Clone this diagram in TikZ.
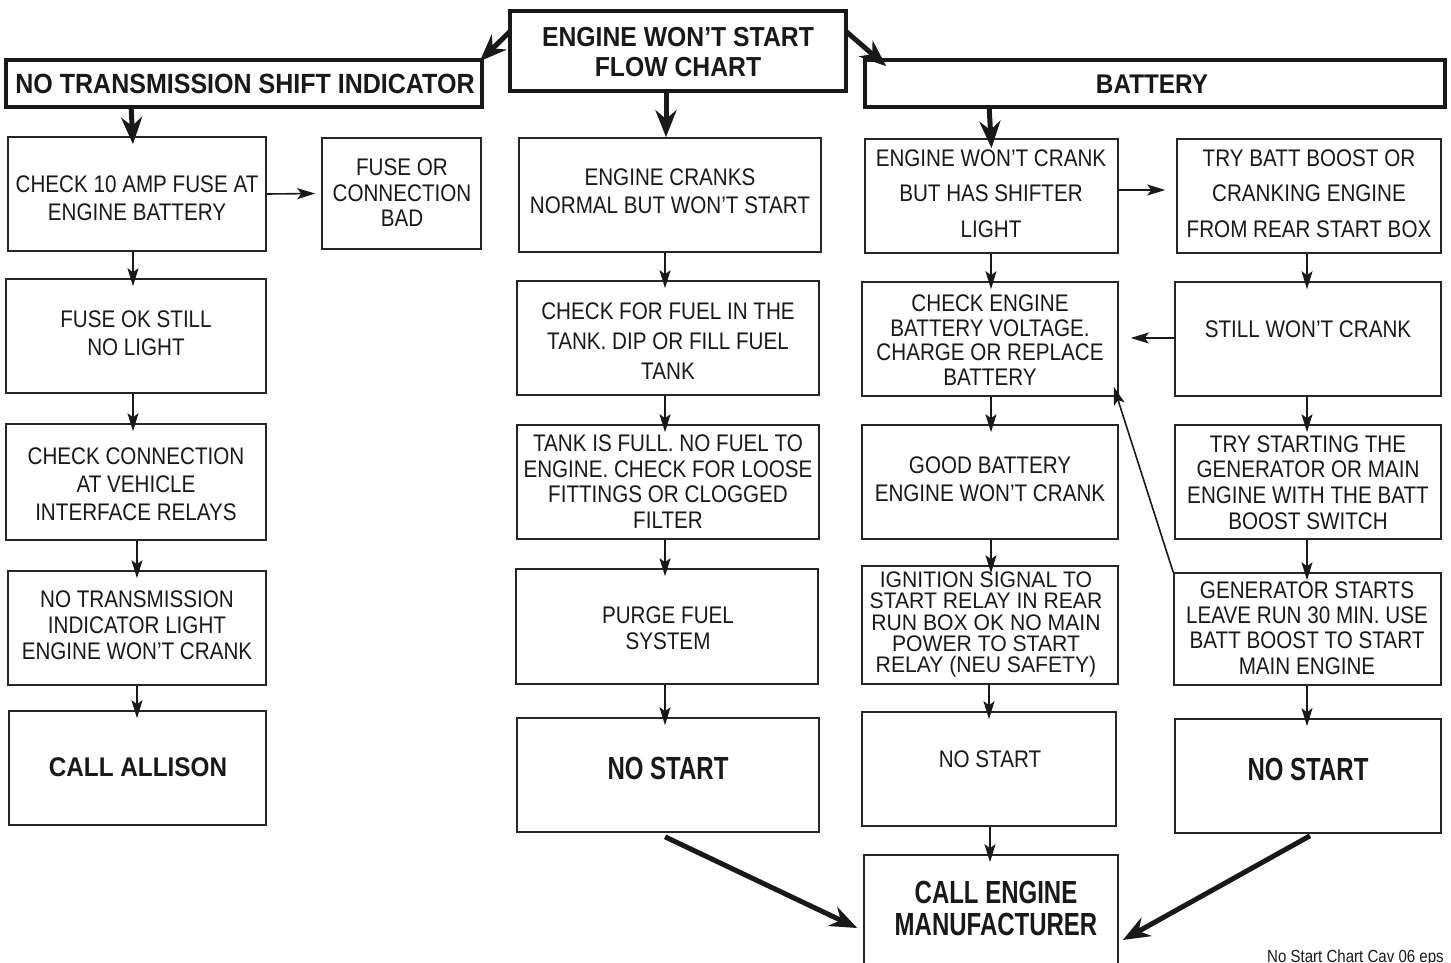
\documentclass[tikz,border=0pt]{standalone}
\usepackage{fontspec}
\setmainfont{Liberation Sans}[FakeStretch=0.86]
\newfontfamily\wfont{Liberation Sans}[FakeStretch=0.94]
\newfontfamily\hbold{Liberation Sans}[FakeStretch=0.9]
\newfontfamily\cbold{Liberation Sans}[FakeStretch=0.75]
\usetikzlibrary{fit,arrows.meta,calc}
\newcommand{\nf}[2]{\fontsize{#1}{#2}\selectfont}
\tikzset{
  box/.style={draw=black!85, line width=1.6pt, inner sep=0pt},
  hbox/.style={draw=black!90, line width=3.6pt, inner sep=0pt},
  txt/.style={align=center, inner sep=0pt, text=black!90},
  ar/.style={draw=black!90, line width=1.6pt, -{Stealth[length=18pt,width=11pt,inset=4pt]}},
  tar/.style={draw=black!90, line width=5pt, -{Stealth[length=27pt,width=21pt]}},
}
\begin{document}
\begin{tikzpicture}[x=1pt,y=-1pt]
\useasboundingbox (0,0) rectangle (1451,962);
\clip (0,0) rectangle (1451,962);
% header boxes
\node[hbox, fit={(510,11) (846,91)}] (title) {};
\node[hbox, fit={(6,60) (482,107)}] (lhead) {};
\node[hbox, fit={(865,60) (1445,107)}] (bhead) {};
% left column
\node[box, fit={(8,137) (266,251)}] (b1) {};
\node[box, fit={(322,138) (481,249)}] (b1r) {};
\node[box, fit={(6,279) (266,393)}] (b2) {};
\node[box, fit={(6,424) (266,540)}] (b3) {};
\node[box, fit={(8,571) (266,685)}] (b4) {};
\node[box, fit={(9,711) (266,825)}] (b5) {};
% middle column
\node[box, fit={(519,138) (821,252)}] (m1) {};
\node[box, fit={(517,281) (819,395)}] (m2) {};
\node[box, fit={(517,425) (819,539)}] (m3) {};
\node[box, fit={(516,569) (818,684)}] (m4) {};
\node[box, fit={(517,718) (819,832)}] (m5) {};
% battery column
\node[box, fit={(865,139) (1118,253)}] (r1) {};
\node[box, fit={(862,282) (1118,396)}] (r2) {};
\node[box, fit={(862,425) (1118,539)}] (r3) {};
\node[box, fit={(862,566) (1118,684)}] (r4) {};
\node[box, fit={(862,712) (1116,826)}] (r5) {};
\node[box, fit={(864,855) (1118,985)}] (cem) {};
% far right column
\node[box, fit={(1177,139) (1441,253)}] (f1) {};
\node[box, fit={(1175,282) (1441,396)}] (f2) {};
\node[box, fit={(1175,425) (1441,539)}] (f3) {};
\node[box, fit={(1174,573) (1441,685)}] (f4) {};
\node[box, fit={(1175,719) (1441,833)}] (f5) {};
% texts
\node[txt, font=\hbold\bfseries\nf{27.5}{30}] (ttitle) at (678,52) {ENGINE WON’T START\\FLOW CHART};
\node[txt, font=\hbold\bfseries\nf{27.8}{30}] (tlhead) at (245,84) {NO TRANSMISSION SHIFT INDICATOR};
\node[txt, font=\hbold\bfseries\nf{27}{30}] (tbhead) at (1152,84) {BATTERY};
\node[txt, font=\nf{24}{28}] (tb1) at (137,198) {CHECK 10 AMP FUSE AT\\ENGINE BATTERY};
\node[txt, font=\nf{24}{25.5}] (tb1r) at (402,193) {FUSE OR\\CONNECTION\\BAD};
\node[txt, font=\nf{24}{28}] (tb2) at (136,333) {FUSE OK STILL\\NO LIGHT};
\node[txt, font=\nf{24}{28}] (tb3) at (136,484) {CHECK CONNECTION\\AT VEHICLE\\INTERFACE RELAYS};
\node[txt, font=\nf{24}{26}] (tb4) at (137,625) {NO TRANSMISSION\\INDICATOR LIGHT\\ENGINE WON’T CRANK};
\node[txt, font=\hbold\bfseries\nf{27}{30}] (tb5) at (138,767) {CALL ALLISON};
\node[txt, font=\nf{24}{28}] (tm1) at (670,191) {ENGINE CRANKS\\NORMAL BUT WON’T START};
\node[txt, font=\nf{24}{30}] (tm2) at (668,341) {CHECK FOR FUEL IN THE\\TANK. DIP OR FILL FUEL\\TANK};
\node[txt, font=\nf{24}{25.7}] (tm3) at (668,481.5) {TANK IS FULL. NO FUEL TO\\ENGINE. CHECK FOR LOOSE\\FITTINGS OR CLOGGED\\FILTER};
\node[txt, font=\nf{24}{26}] (tm4) at (668,628) {PURGE FUEL\\SYSTEM};
\node[txt, font=\cbold\bfseries\nf{32}{32}] (tm5) at (668,768) {NO START};
\node[txt, font=\nf{24}{35.5}] (tr1) at (991,193.5) {ENGINE WON’T CRANK\\BUT HAS SHIFTER\\LIGHT};
\node[txt, font=\nf{24}{24.7}] (tr2) at (990,340) {CHECK ENGINE\\BATTERY VOLTAGE.\\CHARGE OR REPLACE\\BATTERY};
\node[txt, font=\nf{24}{28}] (tr3) at (990,479) {GOOD BATTERY\\ENGINE WON’T CRANK};
\node[txt, font=\wfont\nf{22.5}{21.4}] (tr4) at (986,624.5) {IGNITION SIGNAL TO\\START RELAY IN REAR\\RUN BOX OK NO MAIN\\POWER TO START\\RELAY (NEU SAFETY)};
\node[txt, font=\nf{24}{28}] (tr5) at (990,759) {NO START};
\node[txt, font=\cbold\bfseries\nf{32}{32}] (tcem) at (996,908) {CALL ENGINE\\MANUFACTURER};
\node[txt, font=\nf{24}{35.5}] (tf1) at (1309,193.5) {TRY BATT BOOST OR\\CRANKING ENGINE\\FROM REAR START BOX};
\node[txt, font=\nf{24}{28}] (tf2) at (1308,329) {STILL WON’T CRANK};
\node[txt, font=\nf{24}{25.7}] (tf3) at (1308,482.5) {TRY STARTING THE\\GENERATOR OR MAIN\\ENGINE WITH THE BATT\\BOOST SWITCH};
\node[txt, font=\nf{24}{25.3}] (tf4) at (1307,628) {GENERATOR STARTS\\LEAVE RUN 30 MIN. USE\\BATT BOOST TO START\\MAIN ENGINE};
\node[txt, font=\cbold\bfseries\nf{32}{32}] (tf5) at (1308,769) {NO START};
\node[txt, anchor=base west, font=\nf{17.5}{18}] (foot) at (1267,962) {No Start Chart Cav 06 eps};
% thick arrows
\draw[tar] ($(title.north west)+(2,22)$) -- ($(lhead.north east)+(-4,3)$);
\draw[tar] ($(title.north east)+(-2,22)$) -- ($(bhead.north west)+(23,8)$);
\draw[tar] ($(title.south)+(-12,0)$) -- ($(m1.north)+(-4,0)$);
\draw[tar] ($(lhead.south west)+(127,0)$) -- ($(b1.north)+(-4,8)$);
\draw[tar] ($(bhead.south west)+(126,0)$) -- ($(r1.north)+(0,10)$);
\draw[tar] ($(m5.south)+(-3,4)$) -- ($(cem.west)+(-6,8)$);
\draw[tar] ($(f5.south)+(2,2)$) -- ($(cem.east)+(4,20)$);
% thin arrows, left
\draw[ar] (b1.east) -- ($(b1r.west)+(-6,0)$);
\draw[ar, shorten >=-8pt] (b1.south -| 133,0) -- (b2.north -| 133,0);
\draw[ar, shorten >=-8pt] (b2.south -| 133,0) -- (b3.north -| 133,0);
\draw[ar, shorten >=-8pt] (b3.south -| 137,0) -- (b4.north -| 137,0);
\draw[ar, shorten >=-8pt] (b4.south -| 137,0) -- (b5.north -| 137,0);
% middle
\draw[ar, shorten >=-8pt] (m1.south -| 665,0) -- (m2.north -| 665,0);
\draw[ar, shorten >=-8pt] (m2.south -| 665,0) -- (m3.north -| 665,0);
\draw[ar, shorten >=-8pt] (m3.south -| 665,0) -- (m4.north -| 665,0);
\draw[ar, shorten >=-8pt] (m4.south -| 665,0) -- (m5.north -| 665,0);
% battery column
\draw[ar, shorten >=-8pt] (r1.south -| 991,0) -- (r2.north -| 991,0);
\draw[ar, shorten >=-8pt] (r2.south -| 991,0) -- (r3.north -| 991,0);
\draw[ar, shorten >=-8pt] (r3.south -| 991,0) -- (r4.north -| 991,0);
\draw[ar, shorten >=-8pt] (r4.south -| 989,0) -- (r5.north -| 989,0);
\draw[ar, shorten >=-8pt] (r5.south -| 990,0) -- (cem.north -| 990,0);
\draw[ar] (r1.east |- 0,190) -- ($(f1.west |- 0,190)+(-11,0)$);
% far right column
\draw[ar, shorten >=-8pt] (f1.south -| 1307,0) -- (f2.north -| 1307,0);
\draw[ar, shorten >=-8pt] (f2.south -| 1307,0) -- (f3.north -| 1307,0);
\draw[ar, shorten >=-8pt] (f3.south -| 1307,0) -- (f4.north -| 1307,0);
\draw[ar, shorten >=-8pt] (f4.south -| 1307,0) -- (f5.north -| 1307,0);
\draw[ar] (f2.west |- 0,338) -- ($(r2.east |- 0,338)+(12,0)$);
\draw[ar] (f4.north west) -- ($(r2.south east)+(-5,-10)$);
\end{tikzpicture}
\end{document}
